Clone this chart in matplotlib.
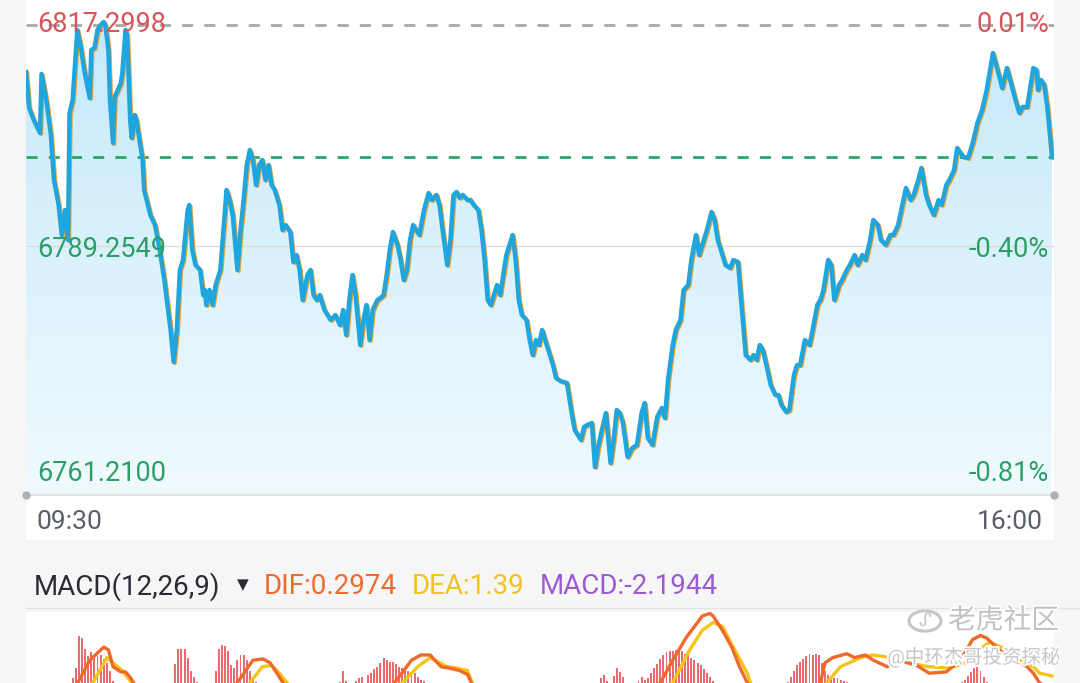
import numpy as np
import matplotlib
matplotlib.use("Agg")
import matplotlib.pyplot as plt
from matplotlib.colors import LinearSegmentedColormap
from matplotlib.patches import PathPatch, Circle
from matplotlib.transforms import offset_copy
import matplotlib.patheffects as pe

plt.rcParams['font.family'] = ['Roboto', 'Noto Sans CJK SC', 'DejaVu Sans']

# ---- intraday price (minutes after 09:30 on the trading clock) ----
minutes = [0, 1, 2.5, 4.5, 5, 6.5, 8, 9, 10.5, 11.5, 12.5, 13.5, 14, 15, 16.5, 17.5, 19, 20.5, 21, 22,
           23, 24, 25, 25.5, 26.5, 27, 28, 28.5, 30.5, 31, 32, 32.5, 33, 33.5, 34, 35, 35.5, 36.5, 37.5, 38,
           40, 41.5, 43, 44.5, 46.5, 47.5, 48.5, 49.5, 50.5, 52, 52.5, 53.5, 54.5, 56, 57, 57.5, 58, 59, 60, 61,
           62.5, 63.5, 64.5, 65.5, 66.5, 68, 69, 70, 71, 72, 73, 74, 75, 76, 77, 78, 79, 80, 81.5, 82.5,
           83.5, 85, 86, 87, 88, 89, 90.5, 91.5, 92.5, 93.5, 94.5, 96, 98, 99.5, 101, 102, 103, 104,
           105, 106, 107.5, 108.5, 109.5, 110.5, 111.5, 113, 114, 115, 116, 117, 118, 119.5, 120.5, 121.5, 122.5, 123.5,
           124.5, 125.5, 126.5, 128, 129.5, 130.5, 132, 133, 134, 135.5, 136.5, 137.5, 138.5, 139.5, 140.5, 142, 143, 144,
           145.5, 146.5, 147.5, 148.5, 149.5, 150.5, 151.5, 152.5, 153.5, 154.5, 155.5, 156.5, 157.5, 158.5, 159.5, 161, 162, 163,
           164, 165, 166, 167, 168.5, 169.5, 170.5, 172, 174, 175.5, 176.5, 178.5, 179.5, 180.5, 182, 183, 184, 185,
           186.5, 188, 189, 190, 191, 192, 193.5, 195, 196.5, 198, 199, 200, 201.5, 203, 204.5, 205.5, 206.5, 208,
           209, 210.5, 211.5, 213, 214, 215.5, 216.5, 217.5, 219, 220.5, 221.5, 222.5, 224, 225, 226.5, 227.5, 229, 230,
           231.5, 233, 234, 235, 236, 237, 238.5, 239.5, 241, 242, 243, 244.5, 245.5, 247, 248, 249, 250.5, 252,
           253, 254.5, 255.5, 256.5, 258, 259, 260, 261.5, 262.5, 264, 265, 266.5, 267.5, 269, 270, 271.5, 272.5, 274,
           275, 276.5, 278, 279, 280.5, 281.5, 283, 284.5, 285.5, 287, 288, 289.5, 290.5, 292, 293.5, 294.5, 296, 297,
           298.5, 299.5, 301.5, 303, 304.5, 306, 307.5, 309, 311, 312.5, 314, 315.5, 317, 318, 319.5, 320.5, 322, 324,
           325, 325.5, 326.5, 327.5, 328.5, 330]
prices = [6811.33, 6806.77, 6805.24, 6803.59, 6811.08, 6807.78, 6803.34, 6797.63, 6794.46, 6790.65, 6793.82, 6790.01, 6806.13, 6807.78, 6816.66, 6814.76, 6810.95, 6808.03, 6814.13, 6814.38,
          6816.66, 6817.30, 6817.68, 6817.30, 6814.13, 6807.78, 6802.32, 6808.16, 6809.90, 6811.33, 6816.66, 6816.03, 6810.95, 6805.24, 6802.96, 6805.88, 6805.24, 6802.71, 6800.17, 6796.36,
          6793.19, 6791.92, 6788.75, 6784.94, 6778.59, 6774.53, 6778.59, 6786.21, 6787.48, 6793.82, 6794.46, 6788.75, 6786.84, 6786.21, 6783.03, 6783.67, 6781.76, 6783.67, 6781.76, 6784.30,
          6786.21, 6791.28, 6796.36, 6795.09, 6793.19, 6786.21, 6791.28, 6795.09, 6799.53, 6801.44, 6800.17, 6796.99, 6799.53, 6800.17, 6797.63, 6799.53, 6796.99, 6796.36, 6794.46, 6791.28,
          6791.92, 6791.03, 6787.22, 6788.11, 6786.21, 6782.40, 6785.57, 6786.21, 6783.03, 6782.40, 6783.03, 6781.13, 6779.86, 6780.50, 6779.22, 6781.13, 6777.96, 6782.40,
          6785.57, 6783.03, 6776.69, 6779.86, 6781.76, 6777.32, 6781.13, 6782.40, 6782.65, 6783.03, 6785.57, 6788.75, 6791.03, 6789.38, 6787.48, 6784.94, 6786.21, 6790.01,
          6791.92, 6791.28, 6790.65, 6793.82, 6795.98, 6795.09, 6795.73, 6794.46, 6791.28, 6786.84, 6790.01, 6795.73, 6796.11, 6795.35, 6795.73, 6795.09, 6795.09, 6794.46,
          6793.82, 6791.28, 6787.48, 6782.40, 6781.76, 6783.03, 6784.30, 6783.03, 6785.57, 6788.11, 6789.38, 6790.65, 6787.48, 6782.40, 6780.50, 6779.86, 6777.32, 6775.42,
          6777.32, 6776.69, 6778.59, 6777.32, 6775.42, 6774.15, 6772.50, 6772.10, 6771.87, 6768.06, 6765.90, 6764.64, 6766.29, 6766.54, 6766.79, 6761.21, 6763.75, 6765.53,
          6768.06, 6761.72, 6764.64, 6768.44, 6768.06, 6766.79, 6762.48, 6763.62, 6764.01, 6768.06, 6769.33, 6764.89, 6764.01, 6767.56, 6768.70, 6767.43, 6772.25, 6776.69,
          6778.59, 6779.86, 6783.67, 6784.30, 6787.48, 6790.65, 6788.11, 6789.38, 6791.28, 6793.57, 6792.55, 6790.01, 6788.11, 6786.84, 6786.46, 6787.48, 6787.22, 6782.40,
          6775.42, 6774.79, 6775.42, 6774.79, 6776.69, 6776.05, 6773.52, 6771.62, 6770.35, 6770.35, 6769.08, 6768.19, 6768.44, 6772.88, 6774.15, 6774.15, 6777.32, 6776.69,
          6778.59, 6781.76, 6782.40, 6783.67, 6787.48, 6786.84, 6782.40, 6784.30, 6784.94, 6786.21, 6786.84, 6788.11, 6786.84, 6788.11, 6787.48, 6790.01, 6792.55, 6791.92,
          6790.01, 6789.38, 6790.65, 6790.65, 6791.92, 6793.82, 6796.61, 6795.09, 6795.73, 6797.63, 6799.15, 6795.73, 6794.46, 6793.19, 6795.09, 6794.46, 6796.99, 6797.63,
          6798.90, 6801.69, 6800.55, 6800.42, 6802.32, 6804.86, 6806.51, 6809.05, 6813.74, 6811.59, 6809.30, 6811.84, 6809.68, 6808.16, 6806.13, 6806.89, 6806.89, 6811.84,
          6811.59, 6809.05, 6810.32, 6809.68, 6806.89, 6800.55]

price_levels = [6817.2998, 6789.2549, 6761.2100]
pct_labels = ['0.01%', '-0.40%', '-0.81%']
time_labels = ['09:30', '16:00']

# ---- MACD (only the top of the panel is visible) ----
hist_min = [15, 16, 17, 18, 19, 20, 21, 22, 23, 24, 25, 26, 27, 28,
            48, 49, 50, 51, 52, 53, 54, 55,
            61, 62, 63, 64, 65, 66, 67, 68, 69, 70, 71, 72, 73, 74,
            101, 102, 103, 106, 107, 108,
            110, 111, 112, 113, 114, 115, 116, 117, 118, 119, 120, 121, 122, 123, 124, 125, 126, 127, 128,
            185, 186, 187, 189, 190, 191, 192, 197, 198, 199,
            200, 201, 202, 203, 204, 205, 206, 207, 208, 209, 210, 211, 212, 213, 214, 215, 216, 217, 218, 219, 220, 221, 222,
            245, 246, 247, 248, 249, 250, 251, 252, 253, 254, 255, 256, 257, 258, 259, 260, 261, 262, 263, 264,
            301, 302, 303, 304, 305, 306, 307, 308, 309]
hist_val = [1.2, 2.0, 4.5, 4.3, 3.5, 2.9, 3.2, 2.8, 2.9, 3.0, 2.7, 2.4, 1.8, 1.0,
            2.3, 3.5, 3.5, 3.5, 2.8, 1.8, 1.3, 0.9,
            1.8, 3.5, 3.8, 3.7, 3.3, 2.2, 2.0, 2.6, 3.0, 3.0, 2.6, 1.8, 1.3, 0.9,
            0.9, 1.8, 1.0, 1.0, 1.2, 1.3,
            1.5, 1.6, 1.9, 2.1, 2.4, 2.8, 2.6, 2.5, 2.5, 2.3, 2.1, 2.0, 2.0, 1.8, 1.7, 1.6, 1.3, 1.1, 1.0,
            1.2, 1.5, 1.0, 1.4, 2.0, 1.7, 1.3, 1.0, 1.3, 1.1,
            1.2, 1.6, 2.0, 2.3, 2.7, 3.0, 3.2, 3.3, 3.3, 3.4, 3.5, 3.3, 3.1, 3.0, 2.8, 2.6, 2.4, 2.2, 1.9, 1.6, 1.3, 1.0, 0.8,
            0.9, 1.3, 1.8, 2.2, 2.5, 2.7, 2.9, 3.1, 3.0, 3.1, 3.0, 2.4, 1.8, 1.5, 1.3, 1.2, 1.2, 1.1, 1.0, 0.9,
            0.9, 1.1, 1.4, 1.7, 2.0, 2.1, 1.8, 1.3, 0.9]

dif_min = [0, 12, 16.5, 20.5, 25, 26.5, 28, 30.5, 32, 33.5, 36, 45, 60, 67.9, 73, 76.2, 78.5, 80.7, 82.7, 90,
           110, 118.5, 124, 127, 130, 131.5, 133.5, 136, 139.5, 142, 144, 160, 190, 204, 208, 212.5, 216, 217.5,
           220, 221, 224, 227, 229.5, 232, 236, 245, 255.5, 257, 259.5, 264, 266.5, 270, 272.5, 277, 281,
           286.5, 290.5, 296, 300.5, 304.5, 307, 309, 313, 317.5, 322, 324, 326, 330]
dif_val = [-0.5, -0.5, 0.8, 2.6, 3.6, 3.4, 2.1, 1.7, 1.7, 1.3, 0.3, -2.0, -1.0, 0.85, 2.6, 2.7, 2.4, 1.6, 0.85, -0.5,
           -0.8, 0.85, 2.6, 3.0, 3.0, 2.6, 2.1, 2.0, 1.8, 1.5, 0.5, -2.0, -1.5, 0.85, 2.6, 4.4, 5.5, 6.0,
           6.2, 6.0, 4.9, 3.6, 2.1, 0.85, -0.5, -1.5, 0.85, 2.4, 2.8, 3.1, 2.8, 3.0, 2.6, 2.1, 2.6,
           2.2, 1.6, 1.7, 2.6, 4.2, 4.5, 4.3, 3.4, 2.6, 2.1, 1.6, 0.85, 0.30]
dea_min = [0, 10, 21.5, 26, 28, 31, 34, 40, 60, 72, 76, 79, 81.5, 84, 90, 110, 121, 126, 130, 135.5, 138.5,
           142, 143.5, 150, 180, 208, 213.5, 217.5, 221, 224, 227.5, 232, 233, 240, 250, 257.5, 262, 268.5,
           272.5, 278, 283.5, 290.5, 297, 302.5, 307, 310, 315.5, 319.5, 324, 326, 330]
dea_val = [-0.5, -0.8, 0.85, 2.8, 2.4, 1.8, 0.85, -0.5, -0.8, 0.85, 2.1, 2.2, 1.6, 0.85, -0.5, -0.5, 0.85, 2.1, 2.8, 2.1, 2.0,
           1.8, 0.85, -0.5, -1.5, 0.85, 3.4, 4.9, 5.5, 5.2, 3.6, 1.6, 0.85, -1.0, -1.0, 0.85, 2.1, 2.8,
           3.0, 2.8, 2.4, 2.1, 2.0, 2.4, 3.5, 4.0, 3.4, 2.6, 2.1, 1.6, 1.39]

W, H = 1080, 683
fig = plt.figure(figsize=(W / 100, H / 100), dpi=100, facecolor='#f6f6f7')

def fx(px):
    return px / W

def fy(px):
    return 1 - px / H

# main price panel: white area from y=0 to y=540 px
ax = fig.add_axes([fx(26), fy(540), fx(1028), 540 / H])
ax.set_facecolor('white')
for s in ax.spines.values():
    s.set_visible(False)
ax.set_xticks([])
ax.set_yticks([])

top_p, mid_p, bot_p = price_levels
k = (top_p - bot_p) / 442.0          # price per pixel
ylo, yhi = bot_p - 73 * k, top_p + 25 * k
base = bot_p - 28 * k
xmax = 330 * 1028 / 1026

# gradient fill under the line
poly = ax.fill_between(minutes, prices, base, color='none', lw=0)
clip = PathPatch(poly.get_paths()[0], transform=ax.transData, facecolor='none', edgecolor='none')
ax.add_patch(clip)
cmap = LinearSegmentedColormap.from_list('fill', ['#c4e9fb', '#dcf2fc', '#f4fbfe'])
grad = np.linspace(0, 1, 256).reshape(-1, 1)
img = ax.imshow(grad, extent=[0, xmax, ylo, yhi], aspect='auto', cmap=cmap, origin='upper', zorder=1)
img.set_clip_path(clip)

ax.axhline(mid_p, color='#dcdcdc', lw=1, zorder=2)
ax.plot([0, xmax], [base, base], color='#e3e3e6', lw=1.5, zorder=2)
ax.plot([0, xmax], [base, base], 'o', color='#b0b0b4', ms=5, clip_on=False, zorder=3)
ax.axhline(top_p, color='#a8a8a8', lw=2, ls=(0, (4, 4)), zorder=2)
ax.axhline(prices[-1], color='#2aa56a', lw=2, ls=(0, (4, 4)), zorder=2)

shadow = offset_copy(ax.transData, fig=fig, x=1.3, y=-1.0, units='dots')
ax.plot(minutes, prices, color='#e6a23c', lw=2.8, transform=shadow, zorder=4, solid_joinstyle='round')
ax.plot(minutes, prices, color='#1fa6de', lw=3.2, zorder=5, solid_joinstyle='round')

ax.set_xlim(0, xmax)
ax.set_ylim(ylo, yhi)

red, green = '#d9545a', '#2a9f66'
lab_y = [top_p, mid_p - 4 * k, bot_p - 7 * k]
lab_col = [red, green, green]
ytr = ax.get_yaxis_transform()
for yv, txt, pct, c in zip(lab_y, price_levels, pct_labels, lab_col):
    ax.text(11 / 1028, yv, f'{txt:.4f}', color=c, fontsize=19.5,
            ha='left', va='center', transform=ytr, zorder=6)
    ax.text(1 - 5 / 1028, yv, pct, color=c, fontsize=19.5, ha='right', va='center',
            transform=ytr, zorder=6)

ax.text(11 / 1028, 18 / 540, time_labels[0], color='#5a5e68', fontsize=19, ha='left', va='center',
        transform=ax.transAxes)
ax.text(1 - 11 / 1028, 18 / 540, time_labels[1], color='#5a5e68', fontsize=19, ha='right', va='center',
        transform=ax.transAxes)

# MACD header
hy = fy(587)
fig.text(fx(34), hy, 'MACD(12,26,9)', color='#2b2b33', fontsize=20, va='center')
fig.text(fx(237), hy + 0.003, '▼', color='#2b2b33', fontsize=11, va='center', family=['DejaVu Sans'])
fig.text(fx(264), hy, 'DIF:0.2974', color='#ef6a2e', fontsize=20, va='center')
fig.text(fx(412), hy, 'DEA:1.39', color='#f2c21e', fontsize=20, va='center')
fig.text(fx(540), hy, 'MACD:-2.1944', color='#9c5bd1', fontsize=20, va='center')
fig.add_artist(plt.Line2D([fx(26), 1], [fy(608), fy(608)], color='#e2e2e4', lw=1))

# MACD panel
mx = fig.add_axes([fx(26), 0, fx(1028), (683 - 612) / H])
mx.set_facecolor('white')
for s in mx.spines.values():
    s.set_visible(False)
mx.set_xticks([])
mx.set_yticks([])
mx.bar(hist_min, hist_val, width=0.62, color='#ea6a70', zorder=2)
mx.plot(dif_min, dif_val, color='#ee6a2c', lw=2.4, zorder=4)
mx.plot(dea_min, dea_val, color='#f6c417', lw=2.4, zorder=3)
mx.set_xlim(0, xmax)
mx.set_ylim(11 / 13, 82 / 13)

# watermark
wm = [pe.withStroke(linewidth=2.5, foreground='white')]
fig.add_artist(Circle((fx(925), fy(621)), 16 / W, transform=fig.transFigure, fill=False,
                      ec='#c6c6c6', lw=2.2))
fig.text(fx(925), fy(621), 'ᔑ', color='#c6c6c6', fontsize=13, ha='center', va='center',
         family=['Noto Sans', 'DejaVu Sans'])
fig.text(fx(1059), fy(621), '老虎社区', color='#c2c2c2', fontsize=20, ha='right', va='center',
         path_effects=wm)
fig.text(fx(1061), fy(657), '@中环杰哥投资探秘', color='#c6c6c6', fontsize=14, ha='right', va='center',
         path_effects=wm)

fig.savefig('out.png', dpi=100, facecolor=fig.get_facecolor())
